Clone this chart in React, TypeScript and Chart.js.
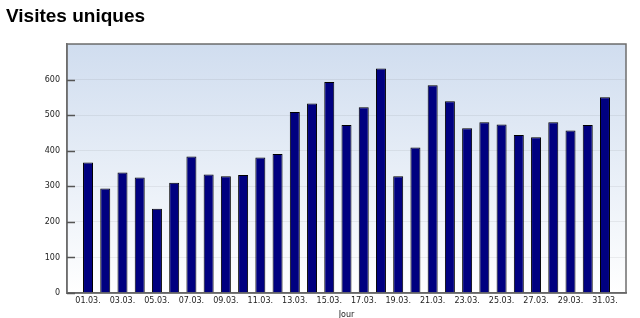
import React, { useEffect, useRef } from "react";
import { Chart, registerables } from "chart.js";

Chart.register(...registerables);

const dayNumbers = [1,2,3,4,5,6,7,8,9,10,11,12,13,14,15,16,17,18,19,20,21,22,23,24,25,26,27,28,29,30,31];
const visits = [367,294,339,325,237,310,384,333,328,332,381,391,509,533,593,472,522,631,328,409,584,539,463,480,474,444,438,480,457,472,550];
const xTickDays = [1,3,5,7,9,11,13,15,17,19,21,23,25,27,29,31];
const xTickLabels = ["01.03.","03.03.","05.03.","07.03.","09.03.","11.03.","13.03.","15.03.","17.03.","19.03.","21.03.","23.03.","25.03.","27.03.","29.03.","31.03."];
const yTicks = [0,100,200,300,400,500,600];
const titleText = "Visites uniques";
const xAxisTitle = "Jour";

const framePlugin = {
  id: "frame",
  beforeDraw(chart: any) {
    const { ctx, chartArea: a } = chart;
    const g = ctx.createLinearGradient(0, a.top, 0, a.bottom);
    g.addColorStop(0, "#d0ddef");
    g.addColorStop(1, "#ffffff");
    ctx.save();
    ctx.fillStyle = g;
    ctx.fillRect(a.left, a.top, a.right - a.left, a.bottom - a.top);
    ctx.restore();
  },
  afterDraw(chart: any) {
    const { ctx, chartArea: a, scales } = chart;
    ctx.save();
    ctx.strokeStyle = "#6e6e6e";
    ctx.lineWidth = 1.5;
    ctx.strokeRect(a.left, a.top, a.right - a.left, a.bottom - a.top);
    ctx.strokeStyle = "#555";
    ctx.lineWidth = 1.5;
    yTicks.forEach((v) => {
      const y = Math.round(scales.y.getPixelForValue(v)) + 0.5;
      ctx.beginPath();
      ctx.moveTo(a.left, y);
      ctx.lineTo(a.left + 8, y);
      ctx.stroke();
    });
    ctx.fillStyle = "#000";
    ctx.font = "bold 19px 'Liberation Sans', Arial, sans-serif";
    ctx.textBaseline = "top";
    ctx.textAlign = "left";
    ctx.fillText(titleText, 6, 7);
    ctx.font = "8px 'DejaVu Sans', sans-serif";
    ctx.fillStyle = "#222";
    ctx.textAlign = "center";
    ctx.fillText(xAxisTitle, (a.left + a.right) / 2, 311);
    ctx.restore();
  },
};

export default function App() {
  const ref = useRef<HTMLCanvasElement>(null);
  useEffect(() => {
    document.body.style.margin = "0";
    const chart = new Chart(ref.current!, {
      type: "bar",
      data: {
        datasets: [
          {
            data: dayNumbers.map((d, i) => ({ x: d, y: visits[i] })),
            backgroundColor: "#000080",
            borderColor: "#000000",
            borderWidth: 1,
            borderSkipped: "bottom",
            barPercentage: 0.58,
            categoryPercentage: 1,
          },
        ],
      },
      options: {
        animation: false,
        responsive: false,
        maintainAspectRatio: false,
        layout: { padding: { left: 0, right: 14, top: 44, bottom: 0 } },
        plugins: { legend: { display: false }, tooltip: { enabled: false }, title: { display: false } },
        scales: {
          x: {
            type: "linear",
            offset: false,
            min: -0.22,
            max: 32.22,
            afterBuildTicks: (axis: any) => {
              axis.ticks = xTickDays.map((v) => ({ value: v }));
            },
            afterFit: (s: any) => { s.height = 25; },
            ticks: {
              autoSkip: false,
              maxRotation: 0,
              padding: 3,
              color: "#222",
              font: { family: "'DejaVu Sans', sans-serif", size: 8 },
              callback: (v: any) => {
                const i = xTickDays.indexOf(Number(v));
                return i >= 0 ? xTickLabels[i] : "";
              },
            },
            grid: { display: false, drawTicks: false, offset: false },
            border: { display: true, color: "#555", width: 1.5 },
          },
          y: {
            min: 0,
            max: 700,
            afterFit: (s: any) => { s.width = 67; },
            ticks: {
              stepSize: 100,
              padding: 7,
              color: "#222",
              font: { family: "'DejaVu Sans', sans-serif", size: 8 },
              callback: (v: any) => (Number(v) >= 700 ? "" : String(v)),
            },
            grid: { color: "rgba(0,0,0,0.06)", drawTicks: false },
            border: { display: true, color: "#6e6e6e", width: 1.5 },
          },
        },
      },
      plugins: [framePlugin],
    });
    return () => chart.destroy();
  }, []);
  return <canvas ref={ref} width={640} height={318} style={{ display: "block" }} />;
}
